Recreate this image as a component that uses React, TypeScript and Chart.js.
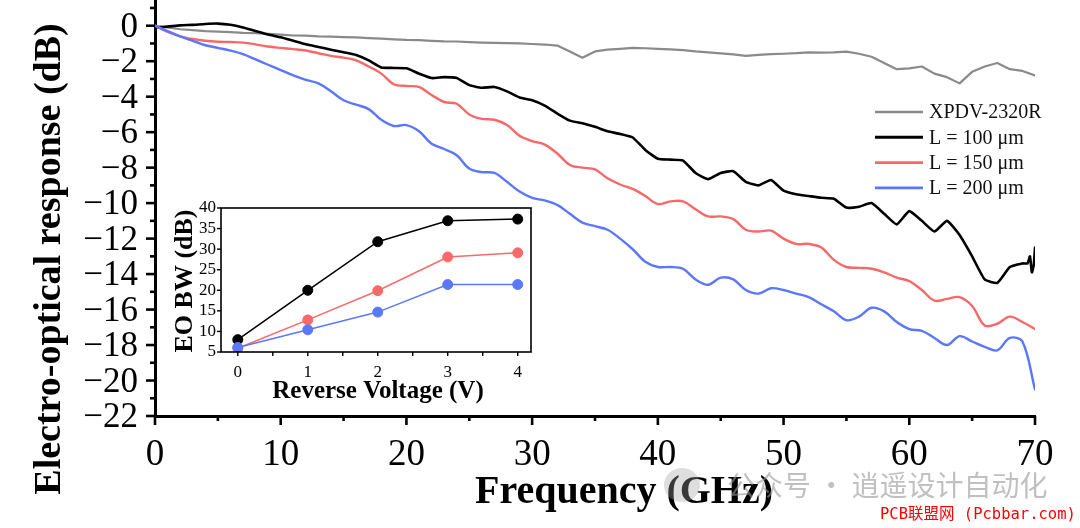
import React, { useEffect, useRef } from 'react';
import { Chart, registerables } from 'chart.js';

Chart.register(...registerables);

const SERIF = '"Liberation Serif", "Times New Roman", serif';

// ---------- main chart data ----------
const freqGHz = [
  0, 1, 2, 3, 4, 5, 6, 7, 8, 9,
  10, 11, 12, 13, 14, 15, 16, 17, 18, 19,
  20, 21, 22, 23, 24, 25, 26, 27, 28, 29,
  30, 31, 32, 33, 34, 35, 36, 37, 38, 39,
  40, 41, 42, 43, 44, 45, 46, 47, 48, 49,
  50, 51, 52, 53, 54, 55, 56, 57, 58, 59,
  60, 61, 62, 63, 64, 65, 66, 67, 68, 69,
  70,
];

const xpdvResponse = [
  0, -0.1, -0.2, -0.25, -0.3, -0.33, -0.36, -0.4, -0.42, -0.46,
  -0.5, -0.55, -0.56, -0.6, -0.62, -0.64, -0.66, -0.7, -0.73, -0.77,
  -0.8, -0.81, -0.85, -0.88, -0.89, -0.92, -0.95, -0.97, -0.98, -1.0,
  -1.03, -1.06, -1.12, -1.45, -1.8, -1.45, -1.35, -1.3, -1.25, -1.27,
  -1.3, -1.33, -1.38, -1.45, -1.5, -1.56, -1.62, -1.7, -1.64, -1.6,
  -1.58, -1.55, -1.5, -1.52, -1.5, -1.46, -1.58, -1.75, -2.1, -2.45,
  -2.4, -2.3, -2.7, -2.9, -3.25, -2.6, -2.3, -2.1, -2.45, -2.55,
  -2.8,
];

const l100Response = [
  -0.1, -0.05, 0.02, 0.05, 0.1, 0.12, 0.05, -0.1, -0.3, -0.5,
  -0.65, -0.85, -1.05, -1.2, -1.35, -1.5, -1.65, -1.95, -2.35, -2.38,
  -2.4, -2.7, -2.95, -2.9, -2.95, -3.35, -3.5, -3.45, -3.7, -4.05,
  -4.2, -4.5, -4.95, -5.35, -5.5, -5.7, -5.95, -6.1, -6.3, -7.0,
  -7.5, -7.55, -7.6, -8.3, -8.65, -8.3, -8.2, -8.8, -9.0, -8.7,
  -9.3, -9.5, -9.6, -9.7, -9.75, -10.25, -10.2, -10.0, -10.6, -11.2,
  -10.45, -11.0, -11.6, -11.0, -11.8, -13.0, -14.3, -14.5, -13.6, -13.4,
  -12.5,
];
const l100TailFreq = [69.4, 69.6, 69.75, 69.9];
const l100TailResponse = [-13.4, -13.0, -13.9, -13.5];

const l150Response = [
  0, -0.35, -0.6, -0.75, -0.85, -0.9, -0.92, -0.95, -1.05, -1.17,
  -1.25, -1.32, -1.4, -1.55, -1.7, -1.8, -1.95, -2.3, -2.7, -3.3,
  -3.4, -3.45, -3.9, -4.3, -4.4, -5.0, -5.25, -5.3, -5.6, -6.2,
  -6.5, -6.7, -7.2, -7.85, -8.0, -8.1, -8.6, -8.95, -9.2, -9.6,
  -10.05, -9.9, -9.9, -10.35, -10.75, -10.75, -10.9, -11.5, -11.6, -11.55,
  -12.0, -12.3, -12.3, -12.5, -13.2, -13.6, -13.65, -13.7, -13.9, -14.2,
  -14.4, -14.9, -15.5, -15.4, -15.3, -15.8, -16.9, -16.8, -16.4, -16.7,
  -17.1,
];

const l200Response = [
  0, -0.3, -0.6, -0.85, -1.1, -1.25, -1.4, -1.6, -1.9, -2.2,
  -2.5, -2.8, -3.05, -3.25, -3.7, -4.2, -4.45, -4.7, -5.3, -5.65,
  -5.6, -5.95, -6.65, -6.95, -7.3, -8.05, -8.25, -8.3, -8.8, -9.35,
  -9.7, -9.85, -10.1, -10.6, -11.1, -11.3, -11.5, -12.0, -12.6, -13.3,
  -13.6, -13.6, -13.7, -14.3, -14.6, -14.2, -14.3, -14.9, -15.1, -14.8,
  -14.9, -15.1, -15.3, -15.7, -16.1, -16.6, -16.4, -15.9, -16.1, -16.7,
  -17.1, -17.2, -17.6, -18.0, -17.5, -17.8, -18.1, -18.3, -17.6, -17.8,
  -20.5,
];

const seriesLabels = ['XPDV-2320R', 'L = 100 \u03bcm', 'L = 150 \u03bcm', 'L = 200 \u03bcm'];
const seriesColors = ['#8a8a8a', '#000000', '#f86868', '#5b76ff'];
const seriesWidths = [2.2, 2.6, 2.4, 2.4];
const seriesTension = [0, 0.15, 0.35, 0.35];

const yTickValues = [-22, -20, -18, -16, -14, -12, -10, -8, -6, -4, -2, 0];
const yMinorTickValues = [-21, -19, -17, -15, -13, -11, -9, -7, -5, -3, -1, 1];
const xTickValues = [0, 10, 20, 30, 40, 50, 60, 70];
const xMinorTickValues = [5, 15, 25, 35, 45, 55, 65];

// ---------- inset data ----------
const voltageV = [0, 1, 2, 3, 4];
const bwL100 = [8, 20, 31.8, 36.9, 37.3];
const bwL150 = [5.9, 12.8, 19.9, 28.1, 29.1];
const bwL200 = [6.1, 10.4, 14.7, 21.4, 21.4];
const insetYTicks = [5, 10, 15, 20, 25, 30, 35, 40];
const insetXTicks = [0, 1, 2, 3, 4];
const insetXMinorTicks = [0.5, 1.5, 2.5, 3.5];

const fmtMinus = (v: number) => (v < 0 ? '\u2212' + Math.abs(v) : String(v));

const toPoints = (xs: number[], ys: number[]) => xs.map((x, i) => ({ x, y: ys[i] }));

function tick(ctx: CanvasRenderingContext2D, x1: number, y1: number, x2: number, y2: number) {
  ctx.beginPath();
  ctx.moveTo(x1, y1);
  ctx.lineTo(x2, y2);
  ctx.stroke();
}

const mainDecor = {
  id: 'mainDecor',
  afterDraw(chart: any) {
    const ctx: CanvasRenderingContext2D = chart.ctx;
    const xs = chart.scales.x;
    const ys = chart.scales.y;
    const { left, bottom } = chart.chartArea;
    ctx.save();
    ctx.strokeStyle = '#000';
    ctx.lineWidth = 2.6;
    for (const v of yTickValues) {
      const p = ys.getPixelForValue(v);
      tick(ctx, left - 9, p, left, p);
    }
    for (const v of yMinorTickValues) {
      const p = ys.getPixelForValue(v);
      if (p < 0) continue;
      tick(ctx, left - 5, p, left, p);
    }
    for (const v of xTickValues) {
      const p = xs.getPixelForValue(v);
      tick(ctx, p, bottom, p, bottom + 9);
    }
    for (const v of xMinorTickValues) {
      const p = xs.getPixelForValue(v);
      tick(ctx, p, bottom, p, bottom + 5);
    }

    ctx.fillStyle = '#000';
    ctx.textAlign = 'center';
    ctx.textBaseline = 'alphabetic';
    ctx.font = `bold 40px ${SERIF}`;
    ctx.fillText('Frequency (GHz)', 624, 503);

    ctx.save();
    ctx.translate(60, 259);
    ctx.rotate(-Math.PI / 2);
    ctx.font = `bold 38px ${SERIF}`;
    ctx.fillText('Electro-optical response (dB)', 0, 0);
    ctx.restore();

    // legend
    ctx.textAlign = 'left';
    ctx.textBaseline = 'middle';
    ctx.font = `20px ${SERIF}`;
    seriesLabels.forEach((lab, i) => {
      const y = 112 + i * 25.3;
      ctx.strokeStyle = seriesColors[i];
      ctx.lineWidth = seriesWidths[i] + 0.4;
      tick(ctx, 875, y, 923, y);
      ctx.fillStyle = '#111';
      ctx.fillText(lab, 929, y + 1);
    });
    ctx.restore();
  },
};

const insetDecor = {
  id: 'insetDecor',
  afterDraw(chart: any) {
    const ctx: CanvasRenderingContext2D = chart.ctx;
    const xs = chart.scales.x;
    const ys = chart.scales.y;
    const { left, right, top, bottom } = chart.chartArea;
    ctx.save();
    ctx.strokeStyle = '#000';
    ctx.lineWidth = 1.6;
    ctx.strokeRect(left, top, right - left, bottom - top);
    ctx.lineWidth = 1.4;
    for (const v of insetYTicks) {
      const p = ys.getPixelForValue(v);
      tick(ctx, left - 4, p, left, p);
    }
    for (const v of insetXTicks.concat(insetXMinorTicks)) {
      const p = xs.getPixelForValue(v);
      tick(ctx, p, bottom, p, bottom + 4);
    }
    ctx.fillStyle = '#000';
    ctx.textAlign = 'center';
    ctx.textBaseline = 'alphabetic';
    ctx.font = `bold 25px ${SERIF}`;
    ctx.fillText('Reverse Voltage (V)', 218, 203);
    ctx.save();
    ctx.translate(32, 86);
    ctx.rotate(-Math.PI / 2);
    ctx.font = `bold 26px ${SERIF}`;
    ctx.fillText('EO BW (dB)', 0, 0);
    ctx.restore();
    ctx.restore();
  },
};

export default function App() {
  const mainRef = useRef<HTMLCanvasElement>(null);
  const insetRef = useRef<HTMLCanvasElement>(null);

  useEffect(() => {
    const l100Points = toPoints(freqGHz, l100Response)
      .concat(toPoints(l100TailFreq, l100TailResponse))
      .sort((a, b) => a.x - b.x);
    const seriesData = [
      toPoints(freqGHz, xpdvResponse),
      l100Points,
      toPoints(freqGHz, l150Response),
      toPoints(freqGHz, l200Response),
    ];
    const orders = [3, 2, 1, 0];
    const main = new Chart(mainRef.current as HTMLCanvasElement, {
      type: 'line',
      data: {
        datasets: seriesData.map((d, i) => ({
          label: seriesLabels[i],
          data: d,
          borderColor: seriesColors[i],
          borderWidth: seriesWidths[i],
          pointRadius: 0,
          tension: seriesTension[i],
          fill: false,
          order: orders[i],
        })),
      },
      options: {
        responsive: false,
        animation: false,
        devicePixelRatio: 1,
        layout: { padding: { left: 0, right: 45, top: 0, bottom: 0 } },
        plugins: { legend: { display: false }, tooltip: { enabled: false } },
        elements: { line: { borderJoinStyle: 'round', borderCapStyle: 'round' } },
        scales: {
          x: {
            type: 'linear',
            min: 0,
            max: 70,
            grid: { display: false, drawTicks: false },
            border: { display: true, color: '#000', width: 3 },
            afterBuildTicks: (s: any) => {
              s.ticks = xTickValues.map((v) => ({ value: v }));
            },
            ticks: {
              autoSkip: false,
              maxRotation: 0,
              padding: 17,
              color: '#000',
              font: { family: SERIF, size: 37 },
            },
            afterFit: (s: any) => {
              s.height = 112;
              s.paddingLeft = 0;
              s.paddingRight = 0;
            },
          },
          y: {
            type: 'linear',
            min: -22,
            max: 1.45,
            grid: { display: false, drawTicks: false },
            border: { display: true, color: '#000', width: 3 },
            afterBuildTicks: (s: any) => {
              s.ticks = yTickValues.map((v) => ({ value: v }));
            },
            ticks: {
              autoSkip: false,
              padding: 17,
              labelOffset: 2,
              color: '#000',
              font: { family: SERIF, size: 35 },
              callback: (v: any) => fmtMinus(Number(v)),
            },
            afterFit: (s: any) => {
              s.width = 155;
              s.paddingTop = 0;
              s.paddingBottom = 0;
            },
          },
        },
      },
      plugins: [mainDecor],
    } as any);

    const insetSeries = [bwL100, bwL150, bwL200];
    const insetColors = ['#000000', '#f86a6a', '#5b78fb'];
    const inset = new Chart(insetRef.current as HTMLCanvasElement, {
      type: 'line',
      data: {
        datasets: insetSeries.map((vals, i) => ({
          data: toPoints(voltageV, vals),
          borderColor: insetColors[i],
          backgroundColor: insetColors[i],
          pointBackgroundColor: insetColors[i],
          pointBorderColor: insetColors[i],
          borderWidth: 1.5,
          pointRadius: 5,
          pointBorderWidth: 1,
          tension: 0,
          fill: false,
          order: 2 - i,
        })),
      },
      options: {
        responsive: false,
        animation: false,
        devicePixelRatio: 1,
        layout: { padding: { left: 0, right: 9, top: 13, bottom: 0 } },
        plugins: { legend: { display: false }, tooltip: { enabled: false } },
        scales: {
          x: {
            type: 'linear',
            min: -0.24,
            max: 4.19,
            grid: { display: false, drawTicks: false },
            border: { display: false },
            afterBuildTicks: (s: any) => {
              s.ticks = insetXTicks.map((v) => ({ value: v }));
            },
            ticks: { autoSkip: false, maxRotation: 0, padding: 10, color: '#000', font: { family: SERIF, size: 17 } },
            afterFit: (s: any) => {
              s.height = 58;
              s.paddingLeft = 0;
              s.paddingRight = 0;
            },
          },
          y: {
            type: 'linear',
            min: 5,
            max: 40,
            grid: { display: false, drawTicks: false },
            border: { display: false },
            afterBuildTicks: (s: any) => {
              s.ticks = insetYTicks.map((v) => ({ value: v }));
            },
            ticks: { autoSkip: false, padding: 5, color: '#000', font: { family: SERIF, size: 17 } },
            afterFit: (s: any) => {
              s.width = 61;
              s.paddingTop = 0;
              s.paddingBottom = 0;
            },
          },
        },
      },
      plugins: [insetDecor],
    } as any);

    return () => {
      main.destroy();
      inset.destroy();
    };
  }, []);

  return (
    <div style={{ position: 'absolute', left: 0, top: 0, width: 1080, height: 528, background: '#fff', overflow: 'hidden' }}>
      <canvas ref={mainRef} width={1080} height={528} style={{ position: 'absolute', left: 0, top: 0, display: 'block' }} />
      <canvas ref={insetRef} width={380} height={215} style={{ position: 'absolute', left: 160, top: 195, display: 'block' }} />
      <div
        style={{
          position: 'absolute',
          left: 664,
          top: 468,
          width: 36,
          height: 34,
          borderRadius: '50%',
          background: 'rgba(160,160,160,0.35)',
        }}
      />
      <div
        style={{
          position: 'absolute',
          left: 727,
          top: 466,
          fontFamily: '"Noto Sans CJK SC", sans-serif',
          fontSize: 28,
          lineHeight: '36px',
          color: 'rgba(150,150,150,0.6)',
          whiteSpace: 'nowrap',
        }}
      >
        公众号 · 逍遥设计自动化
      </div>
      <div
        style={{
          position: 'absolute',
          left: 880,
          top: 503,
          fontFamily: '"DejaVu Sans Mono", "Noto Sans CJK SC", monospace',
          fontSize: 15.5,
          lineHeight: '22px',
          color: '#ff0000',
          whiteSpace: 'nowrap',
        }}
      >
        PCB联盟网 (Pcbbar.com)
      </div>
    </div>
  );
}
